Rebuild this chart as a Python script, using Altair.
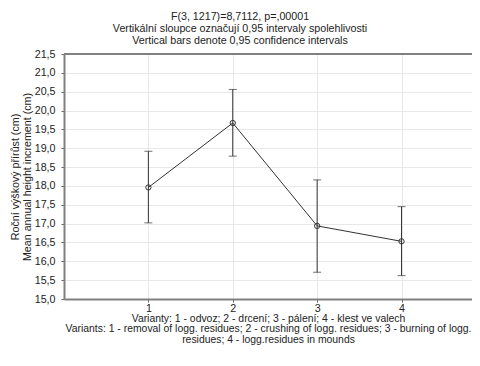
import altair as alt
import pandas as pd

variants = [1, 2, 3, 4]
means = [17.96, 19.67, 16.94, 16.53]
lower = [17.02, 18.79, 15.71, 15.62]
upper = [18.92, 20.56, 18.16, 17.45]
y_ticks = [15.0, 15.5, 16.0, 16.5, 17.0, 17.5, 18.0, 18.5, 19.0, 19.5, 20.0, 20.5, 21.0, 21.5]

title_lines = [
    "F(3, 1217)=8,7112, p=,00001",
    "Vertikální sloupce označují 0,95 intervaly spolehlivosti",
    "Vertical bars denote 0,95 confidence intervals",
]
y_title = ["Roční výškový přírůst (cm)", "Mean annual height increment (cm)"]
x_title = [
    "Varianty: 1 - odvoz; 2 - drcení; 3 - pálení; 4 - klest ve valech" + "\u00a0" * 16,
    "Variants: 1 - removal of logg. residues; 2 - crushing of logg. residues; 3 - burning of logg." + "\u00a0" * 3,
    "residues; 4 - logg.residues in mounds",
]

df = pd.DataFrame({"variant": variants, "mean": means, "lower": lower, "upper": upper})

FONT = "Liberation Sans"
FS = 10.7
TXT = "#222222"
LINE = "#333333"
W = 408
H = 245
xscale = alt.Scale(domain=[0, 4.93 * W / 416], nice=False, zero=False)
yscale = alt.Scale(domain=[15, 21.5], nice=False, zero=False)

x_axis = alt.Axis(
    values=variants, format="d", title=x_title, titleFont=FONT, titleFontSize=10.4,
    titleFontWeight="normal", titleColor=TXT, titlePadding=1, titleLineHeight=10.2,
    labelFont=FONT, labelFontSize=FS, labelColor=TXT, labelPadding=1,
    domainColor="#808080", domainWidth=2, tickColor="#666666", tickSize=3,
    grid=True, gridColor="#e8e8e8", gridWidth=1,
)
y_axis = alt.Axis(
    values=y_ticks, title=y_title, titleFont=FONT, titleFontSize=FS,
    titleFontWeight="normal", titleColor=TXT, titlePadding=2, titleLineHeight=11.5,
    labelFont=FONT, labelFontSize=FS, labelColor=TXT, labelPadding=6,
    labelExpr="replace(format(datum.value, '.1f'), '.', ',')",
    domainColor="#808080", domainWidth=2, tickColor="#666666", tickSize=3,
    grid=True, gridColor="#e8e8e8", gridWidth=1,
)

base = alt.Chart(df)
X = alt.X("variant:Q", scale=xscale, axis=x_axis)

line = base.mark_line(color=LINE, strokeWidth=1).encode(
    x=X,
    y=alt.Y("mean:Q", scale=yscale, axis=y_axis),
)
err = base.mark_errorbar(ticks={"size": 8, "color": LINE}, color=LINE, thickness=1).encode(
    x=X,
    y=alt.Y("lower:Q", scale=yscale, axis=y_axis),
    y2="upper:Q",
)
pts = base.mark_point(shape="circle", filled=False, size=28, color=LINE, strokeWidth=1, opacity=1).encode(
    x=X,
    y=alt.Y("mean:Q", scale=yscale, axis=y_axis),
)
frame_top = alt.Chart(df).mark_rule(color="#808080", strokeWidth=2).encode(
    x=alt.value(0), x2=alt.value(W), y=alt.value(0)
)

chart = alt.layer(frame_top, line, err, pts).properties(
    width=W,
    height=H,
    padding={"left": 56, "top": 46, "right": 0, "bottom": 50},
    autosize=alt.AutoSizeParams(type="none"),
    title=alt.TitleParams(text=title_lines, font=FONT, fontSize=FS, fontWeight="normal",
                          color=TXT, anchor="middle", dx=-28, offset=1, lineHeight=12),
).configure_view(stroke=None).configure(background="white")

chart.save("out.html", embed_options={"renderer": "svg", "actions": False})
